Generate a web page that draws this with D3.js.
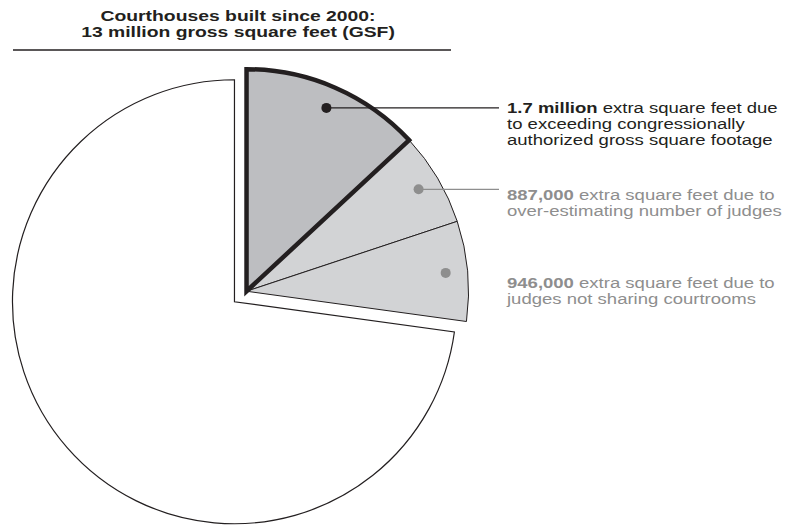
<!DOCTYPE html>
<html>
<head>
<meta charset="utf-8">
<script src="https://cdn.jsdelivr.net/npm/d3@7"></script>
<style>
  body { margin: 0; background: #fff; }
  svg { display: block; font-family: "Liberation Sans", Arial, Helvetica, sans-serif; }
</style>
</head>
<body>
<svg width="789" height="525"></svg>
<script>
// data (million gross square feet)
const totalGSF = 13;
const extraLabels = ['1.7 million', '887,000', '946,000'];
const extraValues = [1.7, 0.887, 0.946];
const extraText = [
  ['extra square feet due', 'to exceeding congressionally', 'authorized gross square footage'],
  ['extra square feet due to', 'over-estimating number of judges'],
  ['extra square feet due to', 'judges not sharing courtrooms']
];
const titleLines = ['Courthouses built since 2000:', '13 million gross square feet (GSF)'];

const svg = d3.select('svg');

const center = { x: 240.5, y: 296.5 };
const radius = 222;
const explode = 8;

// styles per slice
const fills = ['#bdbec1', '#d2d3d5', '#d2d3d5', '#ffffff'];
const strokes = [4.5, 1, 1, 1.2];
const textColors = ['#231f20', '#8e8e8e', '#8e8e8e'];
const dotColors = ['#231f20', '#8e8e8e', '#8e8e8e'];

// the type in the original is set wide, so stretch it horizontally
const titleStretch = 1.29;
const labelStretch = 1.235;

// title
const titleG = svg.append('g')
  .attr('transform', `translate(238, 0) scale(${titleStretch}, 1)`);

titleG.selectAll('text').data(titleLines)
  .enter().append('text')
  .attr('x', 0)
  .attr('y', (d, i) => 21 + i * 16)
  .attr('text-anchor', 'middle')
  .attr('font-weight', 'bold')
  .attr('font-size', 15)
  .attr('fill', '#231f20')
  .text(d => d);

svg.append('line')
  .attr('x1', 13).attr('x2', 451)
  .attr('y1', 50).attr('y2', 50)
  .attr('stroke', '#231f20')
  .attr('stroke-width', 1.5);

// pie
const rest = totalGSF - d3.sum(extraValues);
const values = extraValues.concat([rest]);
const arcs = d3.pie().sort(null).value(d => d)(values);

const arc = d3.arc().innerRadius(0).outerRadius(radius);
const dotArc = d3.arc().innerRadius(200).outerRadius(200);

// explode the extras group and the rest in opposite directions
const extraEnd = arcs[2].endAngle;
const midExtra = extraEnd / 2;
const dx = Math.sin(midExtra) * explode;
const dy = -Math.cos(midExtra) * explode;

const restG = svg.append('g')
  .attr('transform', `translate(${center.x - dx}, ${center.y - dy})`);
const extraG = svg.append('g')
  .attr('transform', `translate(${center.x + dx}, ${center.y + dy})`);

restG.append('path')
  .attr('d', arc(arcs[3]))
  .attr('fill', fills[3])
  .attr('stroke', '#231f20')
  .attr('stroke-width', strokes[3]);

// draw light slices first, dark slice on top
[1, 2, 0].forEach(i => {
  extraG.append('path')
    .attr('d', arc(arcs[i]))
    .attr('fill', fills[i])
    .attr('stroke', '#231f20')
    .attr('stroke-width', strokes[i])
    .attr('stroke-linejoin', 'miter');
});

// labels
const labelX = 507;
const labelY = [113, 200, 288];

arcs.slice(0, 3).forEach((a, i) => {
  const [cx, cy] = dotArc.centroid(a);
  const px = center.x + dx + cx;
  const py = center.y + dy + cy;

  if (i < 2) {
    svg.append('line')
      .attr('x1', px).attr('y1', py)
      .attr('x2', labelX - 8).attr('y2', py)
      .attr('stroke', dotColors[i])
      .attr('stroke-width', 1.2);
  }
  svg.append('circle')
    .attr('cx', px).attr('cy', py)
    .attr('r', 5)
    .attr('fill', dotColors[i]);

  const t = svg.append('g')
    .attr('transform', `translate(${labelX}, ${labelY[i]}) scale(${labelStretch}, 1)`)
    .append('text')
    .attr('x', 0)
    .attr('y', 0)
    .attr('font-size', 15)
    .attr('fill', textColors[i]);

  extraText[i].forEach((line, j) => {
    const ts = t.append('tspan')
      .attr('x', 0)
      .attr('dy', j === 0 ? 0 : 16);
    if (j === 0) {
      ts.append('tspan').attr('font-weight', 'bold').text(extraLabels[i]);
      ts.append('tspan').text(' ' + line);
    } else {
      ts.text(line);
    }
  });
});
</script>
</body>
</html>
